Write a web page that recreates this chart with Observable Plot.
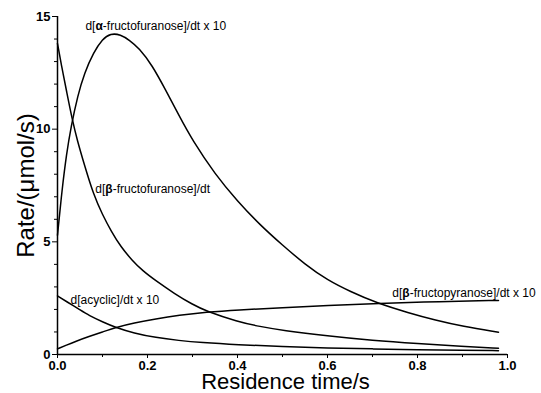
<!DOCTYPE html>
<html><head><meta charset="utf-8">
<script src="https://cdn.jsdelivr.net/npm/d3@7"></script>
<script src="https://cdn.jsdelivr.net/npm/@observablehq/plot@0.6"></script>
<style>body{margin:0;background:#fff} svg{display:block}</style>
</head><body><div id="chart"></div>
<script>
// Residence time (s) and rates
const alphaX = [0, 0.01, 0.02, 0.03, 0.045, 0.06, 0.08, 0.10, 0.118, 0.14, 0.16, 0.181, 0.21, 0.24, 0.27, 0.30, 0.35, 0.40, 0.45, 0.50, 0.55, 0.60, 0.65, 0.71, 0.78, 0.84, 0.90, 0.98];
const alphaY = [5.3, 7.3, 8.9, 10.1, 11.5, 12.5, 13.4, 14.0, 14.25, 14.2, 13.95, 13.6, 12.85, 11.75, 10.6, 9.5, 8.0, 6.8, 5.75, 4.85, 4.0, 3.3, 2.8, 2.28, 1.85, 1.52, 1.25, 0.99];

const betaFurX = [0, 0.01, 0.02, 0.033, 0.044, 0.06, 0.08, 0.10, 0.12, 0.14, 0.166, 0.19, 0.218, 0.26, 0.30, 0.33, 0.40, 0.45, 0.50, 0.60, 0.70, 0.80, 0.90, 0.98];
const betaFurY = [13.8, 12.7, 11.7, 10.4, 9.5, 8.4, 7.1, 6.2, 5.45, 4.8, 4.17, 3.7, 3.28, 2.7, 2.22, 1.93, 1.46, 1.24, 1.07, 0.82, 0.62, 0.48, 0.36, 0.28];

const acyclicX = [0, 0.02, 0.05, 0.07, 0.10, 0.129, 0.17, 0.218, 0.27, 0.318, 0.40, 0.50, 0.60, 0.70, 0.80, 0.90, 0.98];
const acyclicY = [2.6, 2.35, 1.98, 1.73, 1.45, 1.2, 0.95, 0.75, 0.62, 0.53, 0.43, 0.35, 0.29, 0.25, 0.21, 0.19, 0.17];

const betaPyrX = [0, 0.02, 0.04, 0.07, 0.10, 0.129, 0.17, 0.218, 0.27, 0.33, 0.40, 0.50, 0.60, 0.71, 0.85, 0.98];
const betaPyrY = [0.25, 0.42, 0.58, 0.8, 1.0, 1.2, 1.4, 1.58, 1.74, 1.88, 1.98, 2.08, 2.17, 2.27, 2.35, 2.4];

const seriesNames = ["alpha-furanose", "beta-furanose", "acyclic", "beta-pyranose"];
const seriesX = [alphaX, betaFurX, acyclicX, betaPyrX];
const seriesY = [alphaY, betaFurY, acyclicY, betaPyrY];

const labelTexts = ["d[α-fructofuranose]/dt x 10", "d[β-fructofuranose]/dt", "d[acyclic]/dt x 10", "d[β-fructopyranose]/dt x 10"];
const labelX = [0.062, 0.084, 0.029, 0.744];
const labelY = [14.38, 7.15, 2.22, 2.57];

const xMajor = [0, 0.2, 0.4, 0.6, 0.8, 1.0];
const xMinor = [0.1, 0.3, 0.5, 0.7, 0.9];
const yMajor = [0, 5, 10, 15];
const yMinor = [1, 2, 3, 4, 6, 7, 8, 9, 11, 12, 13, 14];

const xTitle = "Residence time/s";
const yTitle = "Rate/(μmol/s)";

const data = seriesNames.flatMap((name, k) => seriesX[k].map((x, i) => ({series: name, x, y: seriesY[k][i]})));
const labels = labelTexts.map((text, i) => ({text, x: labelX[i], y: labelY[i]}));

const chart = Plot.plot({
  width: 541, height: 393,
  marginLeft: 57, marginRight: 34, marginTop: 16, marginBottom: 39,
  style: {fontFamily: "'Liberation Sans', Arial, sans-serif", background: "#fff", color: "#000"},
  x: {domain: [0, 1]},
  y: {domain: [0, 15]},
  marks: [
    Plot.ruleX([0], {y1: 0, y2: 15, stroke: "#000", strokeWidth: 1.5}),
    Plot.ruleY([0], {x1: 0, x2: 1, stroke: "#000", strokeWidth: 1.5}),
    Plot.axisY({ticks: yMajor, tickSize: 5, tickPadding: 2, fontSize: 13, fontWeight: "bold", label: null}),
    Plot.axisY({ticks: yMinor, tickSize: 3, tickFormat: () => "", label: null}),
    Plot.axisX({ticks: xMajor, tickSize: 4, tickPadding: 2, tickFormat: d3.format(".1f"), fontSize: 13, fontWeight: "bold", label: null}),
    Plot.axisX({ticks: xMinor, tickSize: 3, tickFormat: () => "", label: null}),
    Plot.line(data, {x: "x", y: "y", z: "series", curve: "basis", stroke: "#000", strokeWidth: 1.5}),
    Plot.text(labels, {x: "x", y: "y", text: "text", textAnchor: "start", lineAnchor: "bottom", fontSize: 12, fill: "#000", className: "annot"}),
    Plot.text([yTitle], {frameAnchor: "left", rotate: -90, textAnchor: "middle", dx: -24, lineAnchor: "bottom", fontSize: 24, fill: "#000"}),
    Plot.text([xTitle], {frameAnchor: "bottom", textAnchor: "middle", dx: 3, dy: 34, lineAnchor: "bottom", fontSize: 22, fill: "#000", letterSpacing: "1.3px"})
  ]
});

// bold Greek letters in annotations
d3.select(chart).selectAll(".annot text").each(function() {
  const el = d3.select(this);
  const s = el.text();
  el.text(null);
  for (const part of s.split(/([αβ])/)) {
    if (!part) continue;
    const t = el.append("tspan").text(part);
    if (part === "α" || part === "β") t.attr("font-weight", "bold");
  }
});

document.getElementById("chart").append(chart);
</script>
</body></html>
